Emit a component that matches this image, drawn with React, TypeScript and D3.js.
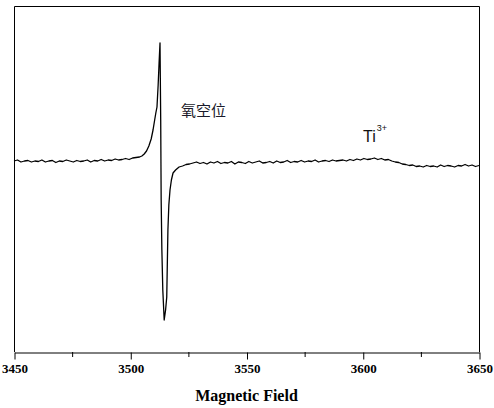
import React, { FC, useEffect, useRef } from "react"
import { select, scaleLinear, line, axisBottom, range } from "d3"

// magnetic field (G) and signal intensity (arb. units, baseline ~ 0)
const field = [
  3450, 3451.5, 3453, 3454.5, 3456, 3457.5, 3459, 3460.5, 3462, 3463.5, 3465, 3466.5, 3468, 3469.5,
  3471, 3472.5, 3474, 3475.5, 3477, 3478.5, 3480, 3481.5, 3483, 3484.5, 3486, 3487.5, 3489, 3490.5,
  3492, 3493.5, 3495, 3496.5, 3498, 3499.5, 3501, 3502.5, 3504,
  3505, 3506, 3507, 3508, 3509, 3509.8, 3510.5, 3511, 3511.5, 3512, 3512.4, 3512.8, 3513.1, 3513.3,
  3513.6, 3514, 3514.6, 3515.2, 3515.7, 3516.2, 3516.6, 3517.1, 3517.7, 3518.4, 3519.5, 3521, 3522.5,
  3524, 3525.5, 3527,
  3528.5, 3530, 3531.5, 3533, 3534.5, 3536, 3537.5, 3539, 3540.5, 3542, 3543.5, 3545, 3546.5, 3548,
  3549.5, 3551, 3552.5, 3554, 3555.5, 3557, 3558.5, 3560, 3561.5, 3563, 3564.5, 3566, 3567.5, 3569,
  3570.5, 3572, 3573.5, 3575, 3576.5, 3578, 3579.5, 3581, 3582.5, 3584, 3585.5, 3587, 3588.5, 3590,
  3591.5, 3593, 3594.5, 3596, 3597.5, 3599, 3600.5, 3602, 3603.5, 3605, 3606.5, 3608, 3609.5, 3611,
  3612.5, 3614, 3615.5, 3617, 3618.5, 3620, 3621.5, 3623, 3624.5, 3626, 3627.5, 3629, 3630.5, 3632,
  3633.5, 3635, 3636.5, 3638, 3639.5, 3641, 3642.5, 3644, 3645.5, 3647, 3648.5, 3650,
]

const intensity = [
  -1, 0, -2, -1, -0.5, -2, -1, -1.5, 0, -2, -1, -0.5, -2.5, -1,
  -1.5, 0, -1, -2, -0.5, -1.5, -1, 0, -2, -0.5, -1, 0.5, -1, 0,
  -0.5, 1, 0, 0.5, 1.5, 0.5, 2, 2.5, 3,
  4, 6, 9, 14, 21, 30, 40, 47, 53, 75, 97, 117, 40, -40,
  -90, -130, -160, -150, -137, -70, -45, -30, -20, -13, -10, -7, -6,
  -4.5, -4, -3,
  -2, -3.5, -2.5, -4, -2, -3, -1.5, -3.5, -2.5, -3, -1.5, -4, -2, -2.5,
  -3.5, -1.5, -3, -2, -1, -3, -2.5, -1.5, -3, -1, -2.5, -2, -0.5, -2.5,
  -1.5, -2, -0.5, -2, -1, -1.5, 0, -2, -1, -0.5, -1.5, 0, -1, -0.5,
  0, -1, 0.5, -0.5, 1, 0, 1.5, 0.5, 1, 2, 0.5, 1.5, 0, 0.5,
  -1, -2, -2.5, -4, -4.5, -5.5, -5, -6.5, -6, -7, -5.5, -6.5, -6, -7,
  -5, -6.5, -5.5, -6, -7, -5.5, -6, -4.5, -6, -5, -6.5, -5.5,
]

const majorTicks = [3450, 3500, 3550, 3600, 3650]
const minorTicks = [3475, 3525, 3575, 3625]

const xLabel = "Magnetic Field"
const peakLabel = "氧空位"
const tiLabel = "Ti"
const tiSup = "3+"

const App: FC = () => {
  const wrapperRef = useRef<HTMLDivElement>(null)

  useEffect(() => {
    const width = 494
    const height = 408
    const left = 14
    const right = 479
    const top = 6
    const bottom = 352

    const xScale = scaleLinear().domain([3450, 3650]).range([left, right])
    const yScale = scaleLinear().domain([-192, 154]).range([bottom, top])

    select(wrapperRef.current).selectAll("*").remove()

    const svg = select(wrapperRef.current)
      .append("svg")
      .attr("width", width)
      .attr("height", height)
      .style("position", "absolute")
      .style("left", "0px")
      .style("top", "0px")
      .style("background", "#fff")

    // frame
    svg
      .append("path")
      .attr("d", `M${left + 0.5},${bottom}V${top + 0.5}H${right + 0.5}V${bottom}`)
      .attr("fill", "none")
      .attr("stroke", "#000")
      .attr("stroke-width", 1)

    // x axis
    const xAxis = axisBottom(xScale)
      .tickValues(majorTicks)
      .tickSize(7)
      .tickSizeOuter(0)
      .tickFormat((d) => String(d))
    const gx = svg
      .append("g")
      .attr("transform", `translate(0.5,${bottom + 0.5})`)
      .call(xAxis)
    gx.select(".domain").attr("stroke", "#000")
    gx.selectAll(".tick line").attr("stroke", "#000")
    gx.selectAll(".tick text")
      .attr("fill", "#000")
      .attr("y", 11)
      .style("font-family", "'Liberation Serif', 'Times New Roman', serif")
      .style("font-weight", "bold")
      .style("font-size", "13px")

    svg
      .append("g")
      .selectAll("line")
      .data(minorTicks)
      .join("line")
      .attr("x1", (d) => xScale(d) + 0.5)
      .attr("x2", (d) => xScale(d) + 0.5)
      .attr("y1", bottom)
      .attr("y2", bottom + 5)
      .attr("stroke", "#000")

    // signal line
    const pts = range(field.length)
    const lineGen = line<number>()
      .x((i) => xScale(field[i]))
      .y((i) => yScale(intensity[i]))
    svg
      .append("path")
      .attr("d", lineGen(pts))
      .attr("fill", "none")
      .attr("stroke", "#000")
      .attr("stroke-width", 1.3)
      .attr("stroke-linejoin", "round")

    // labels
    svg
      .append("text")
      .attr("x", (left + right) / 2)
      .attr("y", 401)
      .attr("text-anchor", "middle")
      .style("font-family", "'Liberation Serif', 'Times New Roman', serif")
      .style("font-weight", "bold")
      .style("font-size", "16px")
      .text(xLabel)

    svg
      .append("text")
      .attr("x", 181)
      .attr("y", 116)
      .attr("fill", "#1a1a2a")
      .style("font-family", "'Noto Sans CJK SC', sans-serif")
      .style("font-size", "15px")
      .text(peakLabel)

    const ti = svg
      .append("text")
      .attr("x", 363)
      .attr("y", 142)
      .attr("fill", "#111")
      .style("font-family", "'Liberation Sans', Arial, sans-serif")
      .style("font-size", "16px")
    ti.append("tspan").text(tiLabel)
    ti.append("tspan")
      .attr("dy", -11)
      .attr("dx", 1)
      .style("font-size", "9px")
      .text(tiSup)
  }, [])

  return <div ref={wrapperRef} />
}

export default App
